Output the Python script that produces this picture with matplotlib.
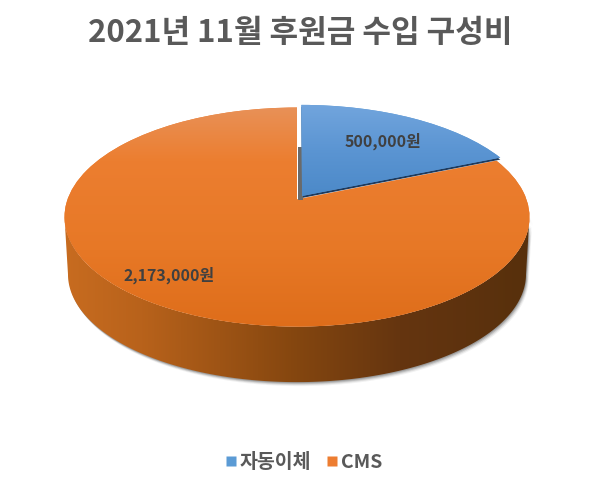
import numpy as np
import matplotlib
matplotlib.use("Agg")
import matplotlib.pyplot as plt
from matplotlib.colors import LinearSegmentedColormap as LSC
from matplotlib.patches import PathPatch, Rectangle
from matplotlib.path import Path
from matplotlib.transforms import Transform, Affine2D
from matplotlib.lines import Line2D

plt.rcParams['font.family'] = ['Noto Sans CJK KR', 'DejaVu Sans']

title = "2021년 11월 후원금 수입 구성비"
categories = ["자동이체", "CMS"]
values = [500000, 2173000]
base_colors = ["#5B9BD5", "#ED7D31"]
label_xy = [(383, 141), (169, 275)]

CX, CY, A, B, K = 297.0, 200.5, 229.5, 106.7, 0.16
S, D = 0.985, 57.5


class Persp(Transform):
    input_dims = output_dims = 2
    is_separable = False
    has_inverse = False

    def transform_non_affine(self, values):
        v = np.asarray(values, dtype=float)
        w = 1 + K * v[:, 1]
        return np.column_stack([CX + A * v[:, 0] / w, CY - B * v[:, 1] / w])


fig = plt.figure(figsize=(6, 4.81), dpi=100, facecolor="white")
ax = fig.add_axes([0, 0, 1, 1])
persp = Persp()

wedges, _ = ax.pie(values, colors=base_colors, startangle=90, counterclock=False,
                   explode=[0.04, 0], radius=1, wedgeprops=dict(linewidth=0))
data_tr = persp + ax.transData

# side wall outline, from the leftmost to the rightmost point through the front
t0 = np.arcsin(K)
th = np.linspace(np.pi + t0, 2 * np.pi - t0, 300)
front = persp.transform(np.column_stack([np.cos(th), np.sin(th)]))
lower = np.column_stack([CX + (front[:, 0] - CX) * S, CY + (front[:, 1] - CY) * S + D])
side_v = np.vstack([front, lower[::-1], front[:1]])
side_path = Path(side_v, closed=True)

# soft shadow below the wall
for off, al in [(4.0, .07), (3.0, .12), (2.0, .2), (1.0, .25)]:
    ax.add_patch(PathPatch(Path(side_v + [off * .7, off], closed=True),
                           fc="#404040", ec="none", alpha=al, zorder=1))

side_cmap = LSC.from_list("side", [(0, "#C86C20"), (.17, "#B8621B"), (.5, "#84460F"),
                                   (.72, "#653510"), (1, "#57300C")])
im = ax.imshow(np.linspace(0, 1, 256)[None, :], cmap=side_cmap, aspect="auto",
               extent=(62, 532, 400, 200), zorder=2)
im.set_clip_path(PathPatch(side_path, transform=ax.transData))

# top faces
wedges[1].set(transform=data_tr, zorder=3)
wedges[0].set(transform=data_tr, zorder=6)

top_cmap = LSC.from_list("top", [(0, "#E8925A"), (.25, "#EC7E30"), (.65, "#E77826"), (1, "#DE6D1A")])
im_top = ax.imshow(np.linspace(0, 1, 256)[:, None], cmap=top_cmap, aspect="auto",
                   extent=(60, 535, 330, 105), zorder=4)
im_top.set_clip_path(wedges[1])

# wall of the cut: dark rim under the separated slice and grey strip next to it
rim = PathPatch(wedges[0].get_path(), fc="#1F3A5C", ec="none", zorder=5)
ax.add_patch(rim)
rim.set_transform(persp + Affine2D().translate(0, 2) + ax.transData)
ax.add_patch(Rectangle((297.5, 148), 5, 53, fc="#6A6A6A", ec="none", zorder=5))

blue_cmap = LSC.from_list("blue", ["#72A5DD", "#5A94D2", "#4A88C7"])
im_blue = ax.imshow(np.linspace(0, 1, 256)[:, None], cmap=blue_cmap, aspect="auto",
                    extent=(295, 505, 202, 105), zorder=7)
im_blue.set_clip_path(wedges[0])

for v, (x, y) in zip(values, label_xy):
    ax.text(x, y, f"{v:,}원", ha="center", va="center", fontsize=11.5, fontweight="bold",
            color="#404040", zorder=8)

ax.text(300, 33, title, ha="center", va="center", fontsize=22.4, fontweight="bold", color="#595959")

handles = [Line2D([], [], ls="none", marker="s", ms=7.5, mfc=c, mec="none") for c in base_colors]
leg = ax.legend(handles, categories, loc="center", bbox_to_anchor=(303.5 / 600, 1 - 463 / 481),
                ncol=2, frameon=False, handlelength=0.6, handletextpad=0.15, columnspacing=0.8,
                prop=dict(size=14, weight="bold"), labelcolor="#595959")

ax.set_xlim(0, 600)
ax.set_ylim(481, 0)
ax.set_aspect("auto")
ax.axis("off")
fig.savefig("out.png", dpi=100, facecolor="white")
